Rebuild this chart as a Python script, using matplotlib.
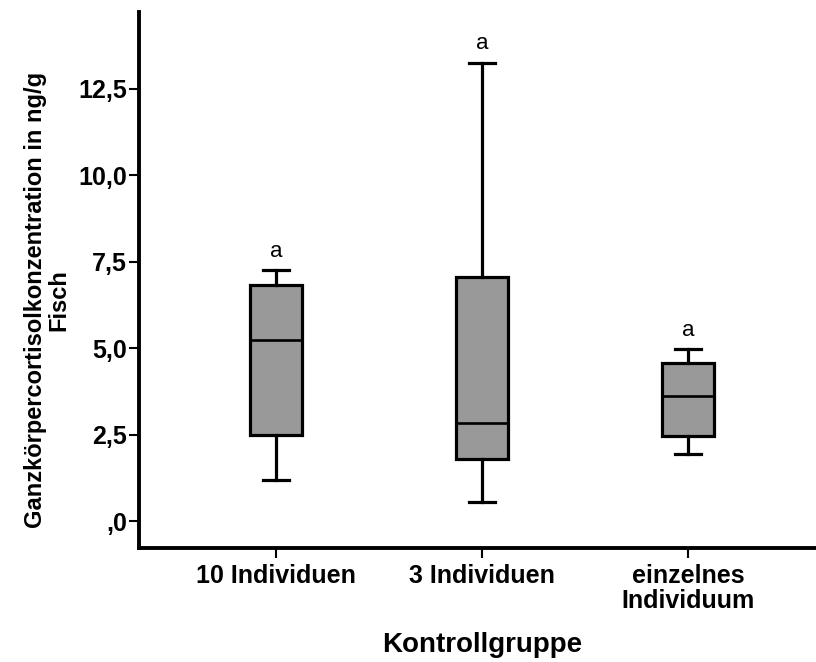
import matplotlib
matplotlib.use("Agg")
import matplotlib.pyplot as plt

plt.rcParams['font.family'] = ['Liberation Sans', 'DejaVu Sans']

categories = ["10 Individuen", "3 Individuen", "einzelnes\nIndividuum"]
whisker_low = [1.20, 0.56, 1.94]
q1 = [2.49, 1.79, 2.46]
median = [5.23, 2.82, 3.61]
q3 = [6.82, 7.06, 4.57]
whisker_high = [7.25, 13.25, 4.97]
letters = ["a", "a", "a"]
yticks = [0, 2.5, 5.0, 7.5, 10.0, 12.5]
yticklabels = [",0", "2,5", "5,0", "7,5", "10,0", "12,5"]

W, H = 816, 662
fig = plt.figure(figsize=(W / 100, H / 100), dpi=100)
ax = fig.add_axes([139 / W, 1 - 547.7 / H, (W - 139) / W, (547.7 - 11.7) / H])

stats = []
for i in range(len(categories)):
    stats.append(dict(med=median[i], q1=q1[i], q3=q3[i],
                      whislo=whisker_low[i], whishi=whisker_high[i], fliers=[]))

positions = [1, 2, 3]
lw = 2.3
ax.bxp(stats, positions=positions, widths=0.254, capwidths=0.122,
       patch_artist=True, showfliers=False,
       boxprops=dict(facecolor="#999999", edgecolor="black", linewidth=lw),
       medianprops=dict(color="black", linewidth=1.9),
       whiskerprops=dict(color="black", linewidth=lw),
       capprops=dict(color="black", linewidth=lw))

for p, hi, t in zip(positions, whisker_high, letters):
    ax.text(p, hi + 0.55, t, ha="center", va="center", fontsize=16)

ax.set_xlim(0.335, 3.621)
ax.set_ylim(-0.77, 14.72)
ax.set_yticks(yticks)
ax.set_yticklabels(yticklabels, fontsize=18, fontweight="bold")
ax.set_xticks(positions)
ax.set_xticklabels(categories, fontsize=18, fontweight="bold", linespacing=1.05)
ax.tick_params(axis="y", length=7, width=1.5, pad=1.5)
ax.tick_params(axis="x", length=7, width=1.5, pad=5)

for s in ["top", "right"]:
    ax.spines[s].set_visible(False)
for s in ["left", "bottom"]:
    ax.spines[s].set_linewidth(2.8)

ax.set_xlabel("Kontrollgruppe", fontsize=20, fontweight="bold")
ax.xaxis.set_label_coords((482 - 139) / (W - 139), -0.158)
ax.set_ylabel("Ganzkörpercortisolkonzentration in ng/g\nFisch", fontsize=17,
              fontweight="bold", linespacing=1.0, multialignment="center")
ax.yaxis.set_label_coords(-0.102, 0.462)

fig.savefig("out.png", dpi=100)
